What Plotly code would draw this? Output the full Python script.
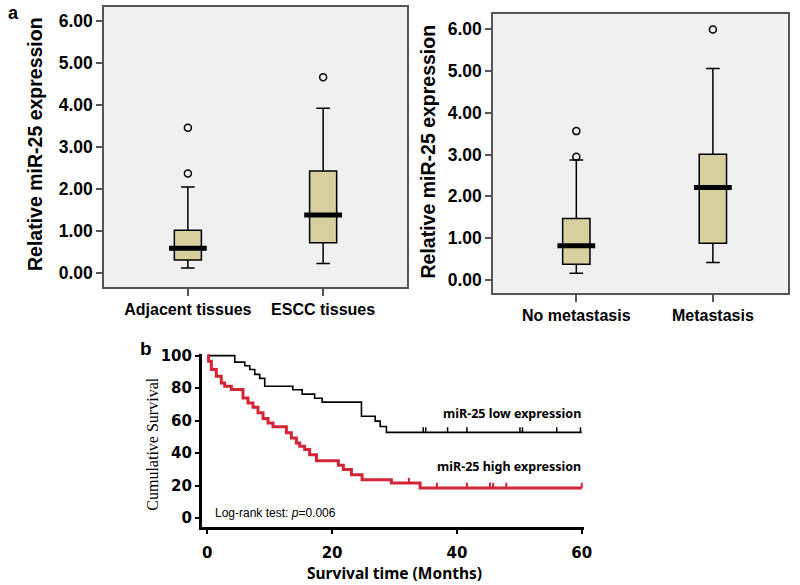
import plotly.graph_objects as go

# ---------------- data ----------------
# Panel a (left): tissues
tissue_cats = ["Adjacent tissues", "ESCC tissues"]
tissue_low = [0.12, 0.23]
tissue_q1 = [0.31, 0.72]
tissue_med = [0.59, 1.38]
tissue_q3 = [1.02, 2.43]
tissue_high = [2.05, 3.92]
tissue_out_cat = ["Adjacent tissues", "Adjacent tissues", "ESCC tissues"]
tissue_out_val = [2.37, 3.46, 4.66]

# Panel a (right): metastasis
meta_cats = ["No metastasis", "Metastasis"]
meta_low = [0.16, 0.42]
meta_q1 = [0.38, 0.88]
meta_med = [0.82, 2.21]
meta_q3 = [1.47, 3.01]
meta_high = [2.87, 5.06]
meta_out_cat = ["No metastasis", "No metastasis", "Metastasis"]
meta_out_val = [2.95, 3.56, 5.99]

ytick_vals_a = [0, 1, 2, 3, 4, 5, 6]

# Panel b: Kaplan-Meier
low_times = [4.4, 6.0, 6.8, 7.6, 8.4, 9.2, 13.7, 15.2, 17.2, 18.4, 24.7, 26.9, 27.7, 28.7]
low_surv = [96.0, 93.8, 91.5, 88.5, 86.0, 81.2, 79.0, 76.3, 73.8, 71.4, 62.7, 59.7, 56.4, 52.8]
low_censor = [34.6, 35.0, 38.5, 41.6, 50.1, 50.5, 56.0, 59.8]

high_times = [0.2, 0.64, 1.44, 2.24, 2.78, 3.85, 5.72, 6.52, 7.32, 8.12, 8.93, 9.73, 10.53,
              12.67, 13.47, 14.27, 14.8, 15.6, 16.4, 17.5, 21.0, 21.8, 23.1, 24.8, 29.5, 34.1]
high_surv = [96.5, 91.4, 87.3, 83.2, 81.2, 79.1, 74.0, 70.9, 68.3, 64.8, 61.3, 58.6, 56.2,
             52.5, 49.4, 46.3, 44.3, 42.2, 39.1, 35.4, 32.6, 29.9, 26.8, 23.7, 21.7, 18.6]
high_censor = [32.3, 36.8, 41.6, 45.3, 45.8, 47.9, 60.0]

follow_up_end = 60
km_xticks = [0, 20, 40, 60]
km_yticks = [0, 20, 40, 60, 80, 100]

# ---------------- styles ----------------
BOX_FILL = "#d7d09e"
PLOT_BG = "#f0f0f0"
FRAME = "#555555"
RED = "#d42536"
W, H = 800, 585

fig = go.Figure()


def add_boxes(cats, lo, q1, med, q3, hi, out_c, out_v, xa, ya):
    fig.add_trace(go.Box(
        x=cats, q1=q1, median=med, q3=q3, lowerfence=lo, upperfence=hi,
        width=0.2, whiskerwidth=0.5, fillcolor=BOX_FILL,
        line=dict(color="black", width=1.5), boxpoints=False,
        xaxis=xa, yaxis=ya, showlegend=False, hoverinfo="skip"))
    fig.add_trace(go.Scatter(
        x=cats, y=med, mode="markers",
        marker=dict(symbol="line-ew", size=27, line=dict(color="black", width=5)),
        xaxis=xa, yaxis=ya, showlegend=False, hoverinfo="skip"))
    fig.add_trace(go.Scatter(
        x=out_c, y=out_v, mode="markers",
        marker=dict(symbol="circle-open", size=7, color="black", line=dict(width=1.5)),
        xaxis=xa, yaxis=ya, showlegend=False, hoverinfo="skip"))


add_boxes(tissue_cats, tissue_low, tissue_q1, tissue_med, tissue_q3, tissue_high,
          tissue_out_cat, tissue_out_val, "x", "y")
add_boxes(meta_cats, meta_low, meta_q1, meta_med, meta_q3, meta_high,
          meta_out_cat, meta_out_val, "x2", "y2")


def level_at(times, surv, t):
    v = 100.0
    for ti, si in zip(times, surv):
        if ti <= t:
            v = si
    return v


def add_km(times, surv, censor, color, width):
    xs = [0] + times + [follow_up_end]
    ys = [100] + surv + [surv[-1]]
    fig.add_trace(go.Scatter(
        x=xs, y=ys, mode="lines", line=dict(color=color, width=width, shape="hv"),
        xaxis="x3", yaxis="y3", showlegend=False, hoverinfo="skip"))
    cx, cy = [], []
    for c in censor:
        lv = level_at(times, surv, c)
        cx += [c, c, None]
        cy += [lv, lv + 3.2, None]
    fig.add_trace(go.Scatter(
        x=cx, y=cy, mode="lines", line=dict(color=color, width=max(1.5, width - 1)),
        xaxis="x3", yaxis="y3", showlegend=False, hoverinfo="skip"))


add_km(low_times, low_surv, low_censor, "black", 1.6)
add_km(high_times, high_surv, high_censor, RED, 3)

tick_font_a = dict(family="Liberation Sans, Arial", size=17.5, color="black", weight="bold")
cat_font_a = dict(family="Liberation Sans, Arial", size=16, color="black", weight="bold")

box_axis = dict(showline=True, linecolor=FRAME, linewidth=1.5, mirror=True,
                showgrid=False, zeroline=False, ticks="outside", tickcolor=FRAME,
                tickwidth=1.5, automargin=False)

fig.update_layout(
    width=W, height=H, autosize=False,
    margin=dict(l=0, r=0, t=0, b=0, pad=0),
    paper_bgcolor="white",
    plot_bgcolor="white",
    xaxis=dict(**box_axis, domain=[104 / W, 407 / W], anchor="y", type="category",
               categoryorder="array", categoryarray=tissue_cats,
               range=[-0.62, 1.62], ticklen=7, tickfont=cat_font_a),
    yaxis=dict(**box_axis, domain=[298 / H, 578 / H], anchor="x",
               range=[-0.33, 6.33], tickvals=ytick_vals_a, tickformat=".2f",
               ticklen=6, tickfont=tick_font_a),
    xaxis2=dict(**box_axis, domain=[493 / W, 788 / W], anchor="y2", type="category",
                categoryorder="array", categoryarray=meta_cats,
                range=[-0.61, 1.55], ticklen=7, tickfont=cat_font_a),
    yaxis2=dict(**box_axis, domain=[292 / H, 571 / H], anchor="x2",
                range=[-0.31, 6.36], tickvals=ytick_vals_a, tickformat=".2f",
                ticklen=6, tickfont=tick_font_a),
    xaxis3=dict(domain=[201.7 / W, 583.6 / W], anchor="y3", range=[-0.9, 60.3],
                tickvals=km_xticks, showline=True, linecolor="black", linewidth=2.5,
                showgrid=False, zeroline=False, ticks="outside", ticklen=5,
                tickwidth=2, tickcolor="black", ticklabelstandoff=6, automargin=False,
                tickfont=dict(family="DejaVu Sans", size=15, color="black", weight="bold")),
    yaxis3=dict(domain=[(H - 526.7) / H, (H - 354.0) / H], anchor="x3",
                range=[-5.2, 101], tickvals=km_yticks, showline=True,
                linecolor="black", linewidth=2.5, showgrid=False, zeroline=False,
                ticks="outside", ticklen=4, tickwidth=2, tickcolor="black",
                automargin=False,
                tickfont=dict(family="DejaVu Sans", size=15, color="black", weight="bold")),
)

# background for box panels
for xa, ya in [("x", "y"), ("x2", "y2")]:
    fig.add_shape(type="rect", xref=f"{xa} domain", yref=f"{ya} domain",
                  x0=0, x1=1, y0=0, y1=1, fillcolor=PLOT_BG, line_width=0, layer="below")


def pann(text, px, py, font, angle=0, xanchor="center"):
    return dict(text=text, x=px / W, y=(H - py) / H, xref="paper", yref="paper",
                xanchor=xanchor, yanchor="middle", textangle=angle, showarrow=False,
                font=font)


def bold_arial(s):
    return dict(family="Liberation Sans, Arial", size=s, color="black", weight="bold")


ann = [
    pann("Relative miR-25 expression", 35, 144, bold_arial(19.5), -90),
    pann("Relative miR-25 expression", 428, 151.5, bold_arial(19.5), -90),
    pann("a", 13, 13, bold_arial(18)),
    pann("b", 146, 348, bold_arial(19)),
    pann("Cumulative Survival", 151.7, 444,
         dict(family="Liberation Serif, Times New Roman", size=16, color="black"), -90),
    pann("Survival time (Months)", 394.7, 573.3,
         dict(family="Noto Sans", size=15.5, color="black", weight="bold")),
    pann("Log-rank test: <i>p</i>=0.006", 213.3, 513.3,
         dict(family="Liberation Sans, Arial", size=12, color="black"), xanchor="left"),
    dict(text="miR-25 low expression", x=60.2, y=64.5, xref="x3", yref="y3",
         xanchor="right", yanchor="middle", showarrow=False,
         font=dict(family="Noto Sans", size=12.5, color="black", weight="bold")),
    dict(text="miR-25 high expression", x=60.2, y=32, xref="x3", yref="y3",
         xanchor="right", yanchor="middle", showarrow=False,
         font=dict(family="Noto Sans", size=12.5, color="black", weight="bold")),
]
fig.update_layout(annotations=ann)

fig.write_html("out.html", config={"displayModeBar": False},
               post_script="document.body.style.margin='0px';")
